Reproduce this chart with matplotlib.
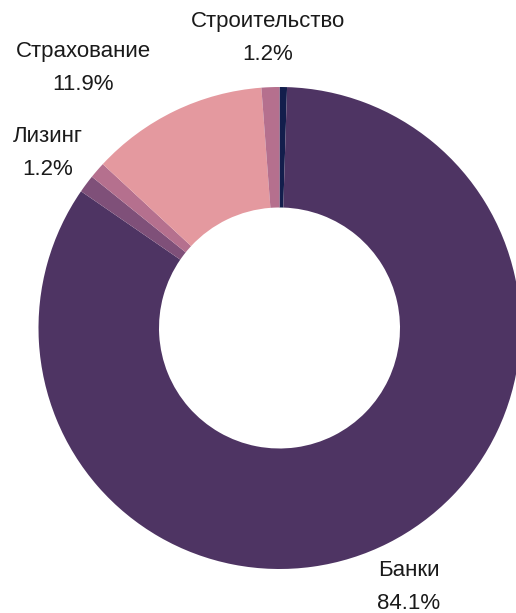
import matplotlib.pyplot as plt
import numpy as np

# Доли секторов, % (по часовой стрелке от 12 часов)
sectors = ['Прочее 1', 'Банки', 'Лизинг', 'Прочее 2', 'Страхование', 'Строительство']
shares = [0.5, 84.1, 1.2, 1.1, 11.9, 1.2]
colors = ['#131E4C', '#4E3463', '#7F5079', '#B5708E', '#E4999F', '#B5708E']
shown = ['Банки', 'Лизинг', 'Страхование', 'Строительство']

# позиции подписей (в радиусах кольца)
label_pos = {
    'Банки': (0.537, -1.075),
    'Лизинг': (-0.961, 0.726),
    'Страхование': (-0.815, 1.079),
    'Строительство': (-0.048, 1.203),
}

plt.rcParams['font.family'] = ['Liberation Sans', 'DejaVu Sans']

fig = plt.figure(figsize=(5.16, 6.13), dpi=100)
ax = fig.add_axes([0, 0, 1, 1])

ax.pie(shares, colors=colors, startangle=90, counterclock=False,
       radius=1.0, wedgeprops=dict(width=0.5, linewidth=0))

for name, val in zip(sectors, shares):
    if name in shown:
        x, y = label_pos[name]
        ax.text(x, y, f'{name}\n{val:.1f}%', ha='center', va='center',
                fontsize=16, color='#1a1a1a', linespacing=1.8)

cx, cy, r = 279.5, 328, 241
ax.set_xlim(-cx / r, (516 - cx) / r)
ax.set_ylim(-(613 - cy) / r, cy / r)
ax.set_aspect('equal')
ax.axis('off')

plt.savefig('out.png', dpi=100)
